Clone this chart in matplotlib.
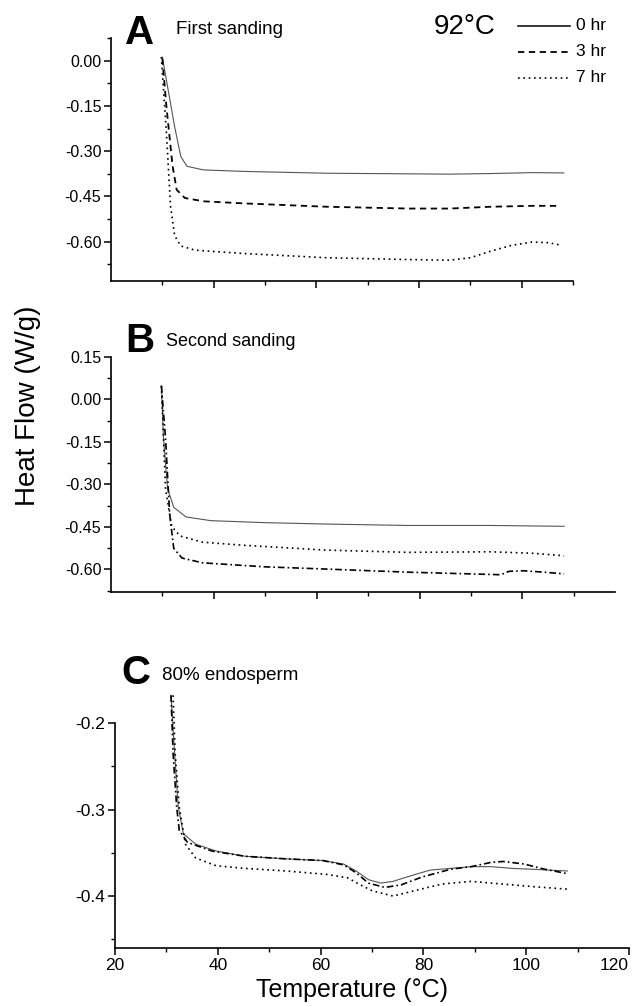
import numpy as np
import matplotlib
matplotlib.use("Agg")
import matplotlib.pyplot as plt
from matplotlib.ticker import MultipleLocator, FixedLocator, NullFormatter

plt.rcParams['font.family'] = ['Liberation Sans', 'DejaVu Sans']

# ---- panel A: first sanding ----
a_x_0hr = [30, 32.4, 33.6, 34.8, 38, 46, 62, 78, 86, 94, 102, 108.2]
a_y_0hr = [0.012, -0.219, -0.318, -0.35, -0.362, -0.367, -0.373, -0.375, -0.376, -0.374, -0.371, -0.372]
a_x_3hr = [30, 30.8, 32, 32.8, 34.4, 38, 46, 62, 78, 86, 94, 102, 107.4]
a_y_3hr = [0.007, -0.153, -0.35, -0.428, -0.455, -0.466, -0.473, -0.484, -0.49, -0.49, -0.484, -0.481, -0.481]
a_x_7hr = [29.8, 30.8, 31.6, 32.4, 33.6, 36.4, 46, 62, 78, 86, 90, 94, 98, 102, 105.2, 107.6]
a_y_7hr = [0.012, -0.24, -0.483, -0.58, -0.614, -0.628, -0.639, -0.653, -0.659, -0.661, -0.653,
           -0.631, -0.612, -0.601, -0.603, -0.611]

# ---- panel B: second sanding ----
b_x_0hr = [29.8, 30.2, 31, 32.2, 34.6, 39.4, 49.8, 61.8, 77.8, 93.8, 108.1]
b_y_0hr = [0.048, -0.136, -0.315, -0.381, -0.415, -0.428, -0.435, -0.44, -0.445, -0.445, -0.448]
b_x_7hr = [29.8, 30.6, 31.8, 33.4, 37.8, 45.8, 61.8, 77.8, 93.8, 101.8, 108.1]
b_y_7hr = [0.048, -0.315, -0.448, -0.482, -0.504, -0.515, -0.532, -0.54, -0.538, -0.543, -0.552]
b_x_3hr = [29.8, 30.6, 31.4, 32.2, 33.8, 37.8, 49.8, 61.8, 77.8, 89.8, 95.8, 97.4, 100.2, 104.2, 108.1]
b_y_3hr = [0.048, -0.136, -0.404, -0.526, -0.56, -0.577, -0.591, -0.599, -0.61, -0.616, -0.619,
           -0.607, -0.605, -0.61, -0.616]

# ---- panel C: 80% endosperm ----
c_x_0hr = [30.9, 31.6, 32.3, 33.3, 35.7, 39.7, 45.3, 53.3, 60.5, 64.5, 66.9, 69.3, 71.7, 74.1,
           77.3, 81.3, 85.3, 89.3, 93.2, 97.2, 101.2, 108]
c_y_0hr = [-0.168, -0.235, -0.297, -0.328, -0.34, -0.348, -0.354, -0.357, -0.359, -0.363, -0.371,
           -0.381, -0.385, -0.383, -0.377, -0.37, -0.368, -0.366, -0.366, -0.368, -0.369, -0.371]
c_x_3hr = [30.9, 31.3, 32.0, 32.5, 34.1, 38.9, 45.3, 53.3, 60.5, 64.5, 66.9, 69.3, 72.5, 75.7,
           79.7, 85.3, 89.3, 93.2, 95.6, 99.6, 103.6, 108]
c_y_3hr = [-0.168, -0.235, -0.297, -0.324, -0.338, -0.348, -0.354, -0.357, -0.359, -0.364, -0.373,
           -0.385, -0.39, -0.387, -0.378, -0.369, -0.366, -0.361, -0.36, -0.363, -0.369, -0.374]
c_x_7hr = [31.3, 31.7, 32.5, 33.7, 35.7, 39.7, 45.3, 53.3, 61.3, 65.3, 67.7, 70.1, 74.1, 78.1,
           83.7, 89.3, 93.2, 101.2, 108]
c_y_7hr = [-0.168, -0.235, -0.297, -0.34, -0.356, -0.365, -0.368, -0.371, -0.375, -0.379, -0.387,
           -0.394, -0.4, -0.394, -0.386, -0.383, -0.385, -0.389, -0.392]

W, H = 639, 1006
fig = plt.figure(figsize=(W / 100, H / 100), dpi=100)


def box(left, top, right, bottom):
    return [left / W, 1 - bottom / H, (right - left) / W, (bottom - top) / H]


def fpos(x, y):
    return x / W, 1 - y / H


solid = dict(color='#555555', lw=0.8, ls='-')
dashed = dict(color='black', lw=1.3, ls=(0, (3.5, 2.5)))
dotted = dict(color='black', lw=1.2, ls=(0, (1, 2.2)))
dashdot = dict(color='black', lw=1.2, ls=(0, (4, 1.8, 1, 1.8)))


def style_axes(ax, xmax, ymin, ymax, ymaj, ymin_step, labels_x=False):
    ax.set_xlim(20, xmax)
    ax.set_ylim(ymin, ymax)
    for s in ['top', 'right']:
        ax.spines[s].set_visible(False)
    for s in ['left', 'bottom']:
        ax.spines[s].set_linewidth(1.2)
    ax.xaxis.set_major_locator(FixedLocator([20, 40, 60, 80, 100, 120] if labels_x else [40, 60, 80, 100]))
    ax.xaxis.set_minor_locator(FixedLocator([30, 50, 70, 90, 110]))
    ax.yaxis.set_major_locator(MultipleLocator(ymaj))
    ax.yaxis.set_minor_locator(MultipleLocator(ymin_step))
    if not labels_x:
        ax.xaxis.set_major_formatter(NullFormatter())
    ax.tick_params(which='major', direction='out', length=5, width=1.1, labelsize=11.5, pad=2)
    ax.tick_params(which='minor', direction='out', length=3, width=1.0)
    ax.patch.set_alpha(0)


# panel A
axA = fig.add_axes(box(111, 38, 573, 281))
axA.plot(a_x_0hr, a_y_0hr, **solid)
axA.plot(a_x_3hr, a_y_3hr, **dashed)
axA.plot(a_x_7hr, a_y_7hr, **dotted)
style_axes(axA, 110, -0.73, 0.075, 0.15, 0.075)
axA.yaxis.set_major_formatter(plt.FormatStrFormatter('%.2f'))

# panel B
axB = fig.add_axes(box(111, 357, 615, 592))
axB.plot(b_x_0hr, b_y_0hr, **solid)
axB.plot(b_x_7hr, b_y_7hr, **dotted)
axB.plot(b_x_3hr, b_y_3hr, **dashdot)
style_axes(axB, 118, -0.68, 0.15, 0.15, 0.075)
axB.yaxis.set_major_formatter(plt.FormatStrFormatter('%.2f'))

# panel C
axC = fig.add_axes(box(115, 723, 629, 948))
axC.plot(c_x_0hr, c_y_0hr, clip_on=False, **solid)
axC.plot(c_x_3hr, c_y_3hr, clip_on=False, **dashdot)
axC.plot(c_x_7hr, c_y_7hr, clip_on=False, **dotted)
style_axes(axC, 120, -0.46, -0.2, 0.1, 0.05, labels_x=True)
axC.yaxis.set_major_formatter(plt.FormatStrFormatter('%.1f'))
axC.tick_params(axis='both', labelsize=12.5)
axC.get_xticklabels()[-1].set_horizontalalignment('right')

# panel letters and titles
fig.text(*fpos(125, 33), 'A', fontsize=29, fontweight='bold', va='center', ha='left')
fig.text(*fpos(176, 30), 'First sanding', fontsize=13.5, va='center', ha='left')
fig.text(*fpos(125, 341), 'B', fontsize=29, fontweight='bold', va='center', ha='left')
fig.text(*fpos(166, 342), 'Second sanding', fontsize=13, va='center', ha='left')
fig.text(*fpos(121, 673), 'C', fontsize=29, fontweight='bold', va='center', ha='left')
fig.text(*fpos(162, 675), '80% endosperm', fontsize=13.5, va='center', ha='left')

# legend-like key
fig.text(*fpos(465, 27), '92°C', fontsize=20, va='center', ha='center')
key_labels = ['0 hr', '3 hr', '7 hr']
key_styles = [dict(color='black', lw=1.1, ls='-'), dashed, dotted]
for i, (lab, st) in enumerate(zip(key_labels, key_styles)):
    y = 26 + i * 26
    x0, y0 = fpos(518, y)
    x1, _ = fpos(570, y)
    fig.add_artist(plt.Line2D([x0, x1], [y0, y0], transform=fig.transFigure, **st))
    fig.text(*fpos(576, y), lab, fontsize=12.5, va='center', ha='left')

fig.text(*fpos(28, 406), 'Heat Flow (W/g)', fontsize=20, rotation=90, va='center', ha='center')
fig.text(*fpos(352, 990), 'Temperature (°C)', fontsize=18, va='center', ha='center')

fig.savefig('out.png', dpi=100)
